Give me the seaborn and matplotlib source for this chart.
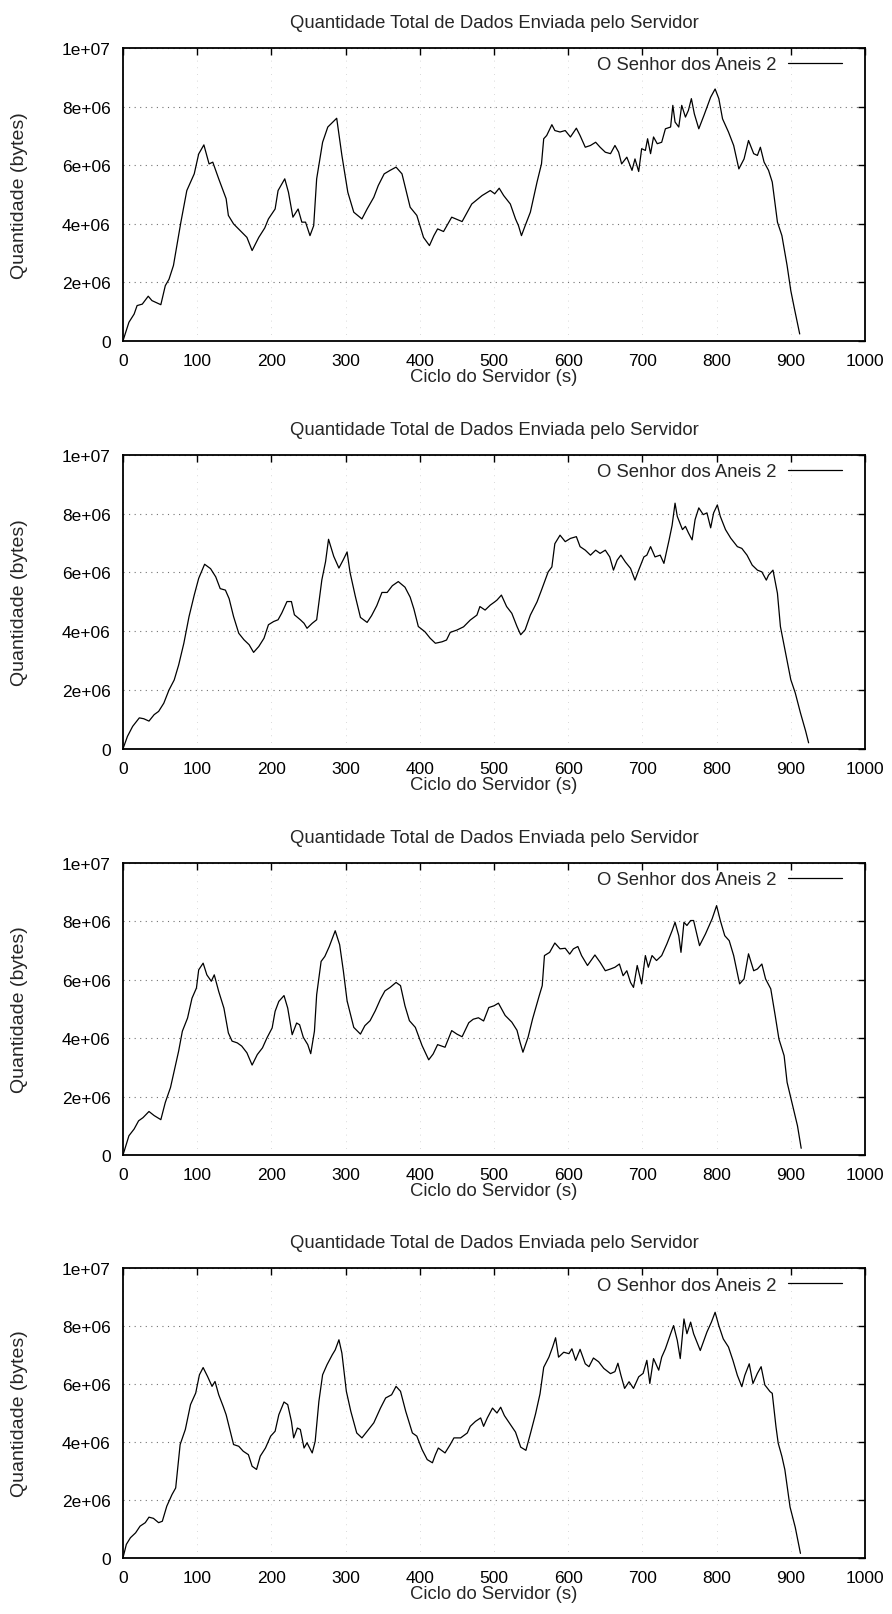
import matplotlib
matplotlib.use("Agg")
import matplotlib.pyplot as plt
from matplotlib.ticker import FuncFormatter, MultipleLocator
import pandas as pd
import seaborn as sns

# Server cycle (s) and total data sent (in units of 1e6 bytes), one pair per run
ciclo_1 = [0, 8, 15, 19, 26, 34, 39, 51, 57, 62, 68, 78, 86, 96, 102, 109, 116, 121, 129, 139,
           142, 149, 158, 167, 174, 183, 191, 196, 205, 209, 218, 223, 229, 236, 241, 246, 252, 257,
           261, 269, 276, 288, 295, 303, 311, 322, 329, 338, 344, 352, 360, 368, 376, 387, 396, 405,
           413, 419, 424, 432, 443, 457, 470, 484, 495, 501, 507, 513, 522, 529, 533, 537, 542, 549,
           558, 564, 567, 571, 578, 582, 589, 596, 603, 611, 616, 623, 630, 637, 643, 650, 657, 663,
           668, 672, 679, 686, 690, 695, 699, 704, 707, 711, 715, 720, 726, 731, 738, 741, 744, 749,
           753, 758, 762, 766, 770, 776, 783, 792, 798, 803, 808, 816, 823, 830, 837, 843, 850, 855,
           859, 864, 870, 875, 882, 888, 895, 900, 905, 912]
dados_1 = [0, 0.63, 0.91, 1.2, 1.25, 1.52, 1.37, 1.23, 1.88, 2.1, 2.57, 4.05, 5.13, 5.7, 6.38, 6.69,
           6.04, 6.1, 5.53, 4.85, 4.28, 3.99, 3.76, 3.53, 3.08, 3.53, 3.85, 4.16, 4.5, 5.13, 5.53, 5.07,
           4.22, 4.5, 4.05, 4.05, 3.59, 3.93, 5.53, 6.78, 7.3, 7.6, 6.33, 5.07, 4.39, 4.16, 4.5, 4.9,
           5.3, 5.7, 5.82, 5.93, 5.7, 4.56, 4.28, 3.53, 3.25, 3.59, 3.82, 3.73, 4.22, 4.07, 4.67, 4.96,
           5.13, 5.02, 5.21, 4.96, 4.67, 4.16, 3.93, 3.59, 3.93, 4.39, 5.42, 6.04, 6.9, 7.01, 7.38,
           7.18, 7.13, 7.18, 6.96, 7.26, 7.01, 6.61, 6.67, 6.78, 6.61, 6.44, 6.39, 6.67, 6.44, 6.04,
           6.27, 5.82, 6.21, 5.78, 6.56, 6.5, 6.9, 6.39, 6.96, 6.73, 6.78, 7.24, 7.3, 8.04, 7.47, 7.3,
           8.04, 7.64, 7.87, 8.27, 7.75, 7.24, 7.7, 8.32, 8.6, 8.27, 7.58, 7.13, 6.67, 5.87, 6.21,
           6.84, 6.39, 6.33, 6.61, 6.1, 5.82, 5.42, 4.05, 3.59, 2.57, 1.71, 1.08, 0.23]

ciclo_2 = [0, 6, 13, 22, 28, 35, 42, 48, 55, 62, 69, 75, 82, 89, 96, 102, 110, 118, 125, 131, 138,
           143, 149, 156, 163, 170, 176, 183, 190, 196, 203, 209, 214, 221, 227, 231, 239, 244, 248,
           255, 261, 268, 273, 277, 284, 291, 297, 302, 306, 313, 320, 329, 335, 342, 349, 356, 363,
           371, 380, 387, 392, 398, 407, 414, 421, 430, 436, 441, 450, 459, 468, 477, 481, 488, 495,
           501, 504, 510, 517, 524, 531, 536, 542, 549, 558, 564, 573, 578, 582, 589, 596, 603, 611,
           616, 623, 630, 637, 643, 650, 656, 661, 666, 671, 677, 684, 690, 695, 702, 706, 711, 717,
           724, 729, 736, 740, 744, 747, 754, 758, 762, 767, 771, 776, 782, 787, 792, 796, 801, 805,
           812, 819, 828, 834, 841, 848, 855, 861, 867, 870, 876, 882, 886, 893, 900, 906, 913, 920,
           924]
dados_2 = [0, 0.42, 0.76, 1.05, 1.02, 0.94, 1.16, 1.27, 1.55, 2.0, 2.34, 2.85, 3.59, 4.5, 5.23, 5.8,
           6.28, 6.13, 5.85, 5.45, 5.4, 5.11, 4.5, 3.93, 3.71, 3.54, 3.28, 3.48, 3.76, 4.22, 4.33,
           4.39, 4.62, 5.01, 5.01, 4.56, 4.39, 4.27, 4.1, 4.27, 4.39, 5.75, 6.37, 7.13, 6.55, 6.15,
           6.44, 6.7, 6.0, 5.2, 4.47, 4.3, 4.53, 4.87, 5.32, 5.32, 5.55, 5.69, 5.5, 5.16, 4.76, 4.16,
           3.98, 3.76, 3.59, 3.64, 3.7, 3.96, 4.04, 4.15, 4.38, 4.55, 4.84, 4.72, 4.89, 5.0, 5.06,
           5.23, 4.84, 4.61, 4.16, 3.88, 4.05, 4.55, 5.0, 5.4, 6.02, 6.19, 6.98, 7.27, 7.05, 7.16,
           7.22, 6.88, 6.76, 6.59, 6.76, 6.65, 6.76, 6.53, 6.08, 6.42, 6.59, 6.36, 6.14, 5.74, 6.08,
           6.53, 6.59, 6.88, 6.53, 6.59, 6.31, 7.11, 7.6, 8.36, 7.91, 7.46, 7.57, 7.35, 7.11, 7.8,
           8.2, 7.97, 8.03, 7.52, 8.03, 8.3, 7.91, 7.46, 7.17, 6.88, 6.82, 6.59, 6.25, 6.08, 6.02,
           5.74, 5.91, 6.08, 5.29, 4.16, 3.25, 2.35, 1.9, 1.22, 0.6, 0.2]

ciclo_3 = [0, 8, 15, 21, 27, 35, 42, 51, 57, 64, 68, 75, 80, 87, 93, 99, 102, 108, 113, 119, 123,
           129, 136, 142, 147, 154, 160, 167, 174, 181, 188, 194, 201, 205, 210, 217, 222, 228, 234,
           238, 243, 249, 253, 258, 261, 267, 272, 278, 286, 292, 297, 302, 311, 320, 326, 333, 340,
           347, 353, 360, 368, 374, 380, 386, 394, 403, 412, 418, 424, 434, 443, 450, 457, 466, 472,
           479, 486, 493, 500, 506, 515, 524, 531, 535, 539, 546, 552, 561, 565, 568, 575, 582, 589,
           596, 602, 607, 613, 618, 626, 636, 643, 650, 657, 663, 669, 674, 679, 684, 688, 693, 699,
           704, 708, 713, 719, 726, 733, 740, 744, 749, 752, 756, 760, 765, 769, 777, 785, 794, 800,
           805, 811, 817, 823, 831, 837, 843, 850, 855, 861, 866, 873, 879, 884, 891, 895, 902, 909,
           914]
dados_3 = [0, 0.66, 0.89, 1.17, 1.28, 1.49, 1.35, 1.21, 1.8, 2.31, 2.76, 3.56, 4.24, 4.69, 5.37,
           5.72, 6.34, 6.57, 6.17, 5.95, 6.17, 5.6, 5.03, 4.18, 3.9, 3.84, 3.73, 3.5, 3.08, 3.44,
           3.67, 4.01, 4.35, 4.92, 5.26, 5.46, 5.03, 4.12, 4.52, 4.46, 4.03, 3.78, 3.47, 4.24, 5.49,
           6.63, 6.8, 7.14, 7.68, 7.2, 6.3, 5.28, 4.37, 4.14, 4.43, 4.6, 4.94, 5.34, 5.62, 5.74, 5.91,
           5.8, 5.11, 4.6, 4.37, 3.75, 3.26, 3.46, 3.78, 3.69, 4.26, 4.14, 4.05, 4.53, 4.65, 4.7,
           4.59, 5.05, 5.11, 5.2, 4.78, 4.55, 4.27, 3.87, 3.52, 4.04, 4.66, 5.46, 5.8, 6.83, 6.94,
           7.26, 7.06, 7.08, 6.88, 7.06, 7.14, 6.83, 6.49, 6.85, 6.6, 6.31, 6.37, 6.43, 6.54, 6.14,
           6.31, 5.91, 5.74, 6.49, 5.86, 6.83, 6.43, 6.83, 6.66, 6.83, 7.23, 7.68, 7.97, 7.51, 6.94,
           7.97, 7.86, 8.03, 8.03, 7.17, 7.57, 8.09, 8.54, 8.03, 7.51, 7.34, 6.83, 5.86, 6.03, 6.89,
           6.31, 6.37, 6.54, 6.03, 5.69, 4.77, 3.97, 3.4, 2.49, 1.75, 1.0, 0.23]

ciclo_4 = [0, 4.5, 10, 17, 23, 30, 35, 41, 48, 53, 59, 66, 71, 77, 84, 91, 98, 103, 108, 114, 120,
           124, 129, 135, 139, 144, 149, 156, 162, 169, 174, 180, 185, 192, 199, 205, 210, 217, 222,
           227, 230, 235, 239, 244, 248, 255, 259, 264, 269, 275, 282, 286, 291, 295, 301, 307, 315,
           322, 329, 338, 347, 354, 362, 368, 374, 381, 390, 396, 403, 410, 417, 421, 425, 434, 441,
           446, 455, 464, 468, 475, 482, 486, 491, 498, 504, 509, 514, 520, 529, 536, 543, 549, 556,
           562, 567, 574, 579, 583, 587, 594, 601, 605, 610, 616, 623, 628, 634, 641, 648, 657, 663,
           667, 671, 676, 682, 688, 695, 701, 706, 710, 715, 722, 726, 731, 738, 742, 747, 751, 756,
           760, 765, 769, 778, 787, 793, 798, 803, 809, 816, 822, 828, 834, 838, 844, 849, 855, 860,
           865, 872, 875, 880, 883, 888, 892, 899, 906, 913]
dados_4 = [0, 0.46, 0.69, 0.86, 1.09, 1.21, 1.4, 1.36, 1.21, 1.26, 1.78, 2.18, 2.41, 3.91, 4.43,
           5.29, 5.69, 6.32, 6.57, 6.26, 5.92, 6.09, 5.63, 5.23, 4.94, 4.43, 3.91, 3.85, 3.68, 3.56,
           3.16, 3.05, 3.51, 3.79, 4.2, 4.37, 4.94, 5.38, 5.29, 4.71, 4.14, 4.48, 4.43, 3.79, 3.97,
           3.62, 4.02, 5.4, 6.32, 6.67, 7.01, 7.18, 7.53, 7.07, 5.75, 5.06, 4.31, 4.14, 4.37, 4.66,
           5.17, 5.52, 5.63, 5.92, 5.75, 5.06, 4.31, 4.2, 3.74, 3.39, 3.28, 3.56, 3.79, 3.62, 3.91,
           4.14, 4.14, 4.31, 4.54, 4.71, 4.83, 4.54, 4.83, 5.17, 5.0, 5.2, 4.91, 4.68, 4.34, 3.82,
           3.71, 4.28, 4.97, 5.66, 6.58, 6.93, 7.28, 7.6, 6.93, 7.1, 7.05, 7.22, 6.82, 7.2, 6.7, 6.6,
           6.9, 6.77, 6.54, 6.36, 6.43, 6.72, 6.31, 5.85, 6.08, 5.85, 6.25, 6.37, 6.82, 6.02, 6.88,
           6.48, 6.93, 7.22, 7.74, 8.02, 7.51, 6.88, 8.25, 7.74, 8.14, 7.74, 7.16, 7.8, 8.14, 8.48,
           8.02, 7.56, 7.28, 6.82, 6.3, 5.91, 6.3, 6.7, 6.02, 6.37, 6.6, 5.97, 5.74, 5.68, 4.53,
           3.96, 3.5, 3.04, 1.75, 1.05, 0.15]

series_name = "O Senhor dos Aneis 2"
titulo = "Quantidade Total de Dados Enviada pelo Servidor"
rotulo_x = "Ciclo do Servidor (s)"
rotulo_y = "Quantidade (bytes)"

sns.set_theme(style="white")
plt.rcParams["font.family"] = ["Liberation Sans", "DejaVu Sans"]
plt.rcParams["axes.unicode_minus"] = False

fig = plt.figure(figsize=(8.92, 16.15), dpi=100)
W, H = 892.0, 1615.0
left_px, right_px = 123.0, 865.0
panels = [(49.0, 341.7), (456.0, 749.7), (864.0, 1156.0), (1269.3, 1558.7)]
runs = [(ciclo_1, dados_1), (ciclo_2, dados_2), (ciclo_3, dados_3), (ciclo_4, dados_4)]

sci = FuncFormatter(lambda v, pos: "%g" % v)

for (top, bottom), (ciclo, dados) in zip(panels, runs):
    ax = fig.add_axes([left_px / W, 1 - bottom / H, (right_px - left_px) / W, (bottom - top) / H])
    df = pd.DataFrame({"ciclo": ciclo, "bytes": [d * 1e6 for d in dados]})
    sns.lineplot(data=df, x="ciclo", y="bytes", ax=ax, color="black", linewidth=0.9,
                 label=series_name, estimator=None, sort=False)
    ax.set_xlim(0, 1000)
    ax.set_ylim(0, 1e7)
    ax.xaxis.set_major_locator(MultipleLocator(100))
    ax.yaxis.set_major_locator(MultipleLocator(2e6))
    ax.yaxis.set_major_formatter(sci)
    # dotted grid: horizontal rules clearly, vertical ones only faintly
    ax.grid(True, axis="y", linestyle=(0, (1, 4)), color="0.45", linewidth=0.8)
    ax.grid(True, axis="x", linestyle=(0, (1, 7)), color="0.8", linewidth=0.6)
    ax.set_axisbelow(True)
    ax.tick_params(direction="in", length=5, width=1, top=True, right=True,
                   labelsize=12.5, colors="black")
    ax.tick_params(axis="x", pad=9)
    ax.tick_params(axis="y", pad=9)
    for s in ax.spines.values():
        s.set_color("black")
        s.set_linewidth(1.3)
    ax.set_title(titulo, fontsize=13.3, pad=15)
    ax.set_xlabel(rotulo_x, fontsize=13.3, labelpad=0)
    ax.set_ylabel(rotulo_y, fontsize=14, labelpad=24)
    ax.legend(loc="upper right", bbox_to_anchor=(0.9686, 0.9716), markerfirst=False,
              frameon=False, borderpad=0, borderaxespad=0, handlelength=2.9,
              handletextpad=0.65, fontsize=13.3)

fig.savefig("out.png", dpi=100)
